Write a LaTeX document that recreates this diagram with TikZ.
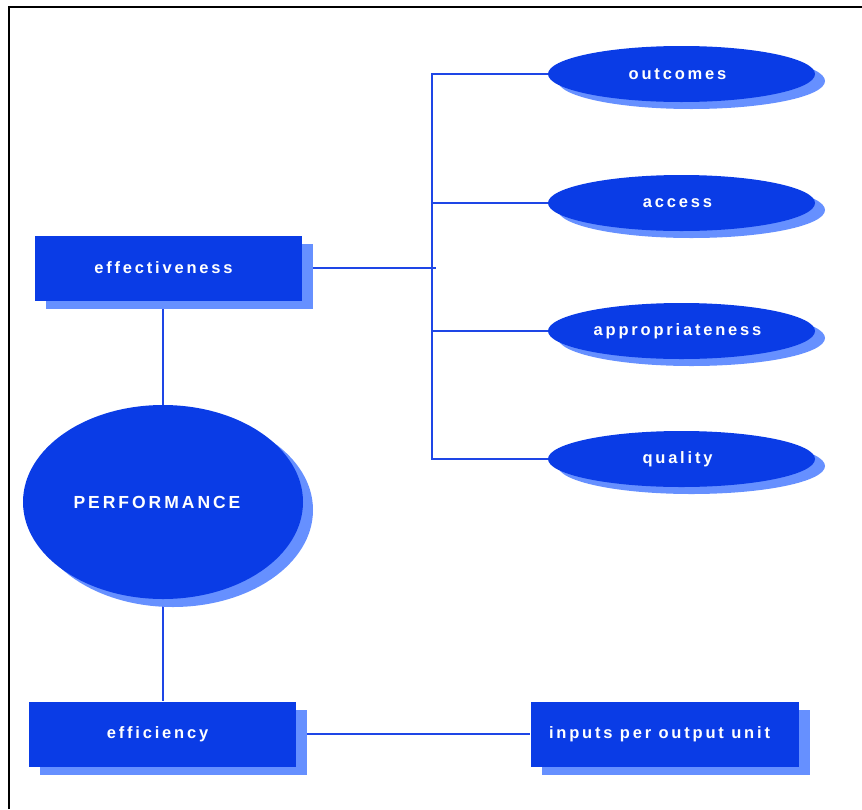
\documentclass[tikz,border=0pt]{standalone}
\usepackage{fontspec}
\usetikzlibrary{shapes.geometric,shadows}
\newfontfamily\boxfont{Liberation Sans}[LetterSpace=17]
\definecolor{darkblu}{HTML}{0A3CE6}
\definecolor{lightblu}{HTML}{6690FF}
\definecolor{lineblu}{HTML}{1E46E6}
\pgfdeclarelayer{background}
\pgfsetlayers{background,main}
\tikzset{
	blubox/.style={rectangle, fill=darkblu, text=white, inner sep=0pt,
		minimum width=267pt, minimum height=65pt,
		font=\boxfont\bfseries\fontsize{16.5}{19}\selectfont,
		execute at begin node={\hspace*{-10pt}},
		copy shadow={shadow xshift=11pt, shadow yshift=-8pt, fill=lightblu, draw=none}},
	bluoval/.style={ellipse, fill=darkblu, text=white, inner sep=0pt,
		minimum width=267pt, minimum height=56pt,
		font=\boxfont\bfseries\fontsize{16.5}{19}\selectfont,
		execute at begin node={\hspace*{-8pt}},
		copy shadow={shadow xshift=10pt, shadow yshift=-7pt, fill=lightblu, draw=none}},
	conn/.style={draw=lineblu, line width=1.4pt}
}
\begin{document}
\begin{tikzpicture}[x=1pt, y=-1pt]
		\useasboundingbox (0, 0) rectangle (862, 809);

		% cornice
		\draw[line width=2pt] (9, 809) -- (9, 7) -- (862, 7);

		\node[blubox] (effectiveness) at (168.5, 268) {effectiveness};
		\node[blubox] (efficiency) at (162.5, 734) {efficiency};
		\node[blubox, minimum width=268pt] (inputs) at (664.5, 734) {inputs per output unit};

		\node[ellipse, fill=darkblu, text=white, inner sep=0pt,
			minimum width=280pt, minimum height=194pt,
			font=\boxfont\bfseries\fontsize{17.5}{20}\selectfont,
			execute at begin node={\hspace*{-12pt}},
			copy shadow={shadow xshift=10pt, shadow yshift=-8pt, fill=lightblu, draw=none}]
			(performance) at (163, 502) {PERFORMANCE};

		\node[bluoval] (outcomes) at (681.5, 74) {outcomes};
		\node[bluoval] (access) at (681.5, 203) {access};
		\node[bluoval] (appropriateness) at (681.5, 331) {appropriateness};
		\node[bluoval] (quality) at (681.5, 459) {quality};

		\coordinate (trunk) at (432, 268);

		% collegamenti
		\begin{pgfonlayer}{background}
			\draw[conn] (effectiveness.east) -- ([xshift=4pt]trunk);
			\draw[conn] (outcomes.west) -| (trunk) |- (quality.west);
			\draw[conn] (access.west) -- (access.west -| trunk);
			\draw[conn] (appropriateness.west) -- (appropriateness.west -| trunk);
			\draw[conn] (performance.north) -- (performance.north |- effectiveness.south);
			\draw[conn] (performance.south) -- (performance.south |- efficiency.north);
			\draw[conn] (efficiency.east) -- (inputs.west);
		\end{pgfonlayer}
	\end{tikzpicture}
\end{document}
